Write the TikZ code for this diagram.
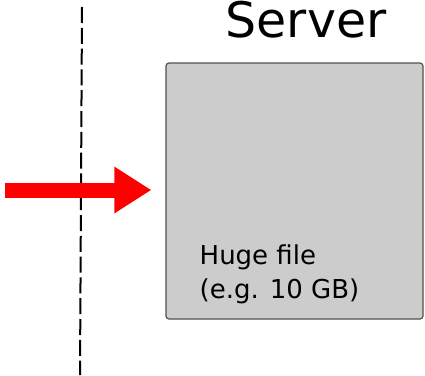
\documentclass[tikz,border=0pt]{standalone}
\usepackage{fontspec}
\setmainfont{DejaVu Sans}
\usetikzlibrary{arrows.meta}
\definecolor{boxgray}{HTML}{CCCCCC}
\definecolor{edgegray}{HTML}{505050}

\begin{document}
\begin{tikzpicture}[x=1pt, y=-1pt]
        \useasboundingbox (0,0) rectangle (425,375);

        % Boundary line
        \coordinate (top) at (82,7);
        \coordinate (bottom) at (80,375);
        \draw[line width=2pt, dash pattern=on 16pt off 4.8pt] (top) -- (bottom);

        % Server box
        \node[draw=edgegray, line width=1.2pt, fill=boxgray, rounded corners=3pt, minimum width=257pt, minimum height=256pt, inner sep=0pt] (server) at (294.5,191) {};
        \node[anchor=base, inner sep=0pt, font=\fontsize{49}{58}\selectfont] (title) at (306,37) {Server};
        \node[anchor=base west, align=left, inner sep=0pt, font=\fontsize{26}{34}\selectfont] (file) at (199.5,298) {Huge file\\(e.g. 10 GB)};

        % Request
        \coordinate (client) at (5,190);
        \draw[red, line width=15pt, -{Triangle[length=37pt,width=44pt]}, shorten >=14pt] (client) -- (server.west |- client);
\end{tikzpicture}
\end{document}
